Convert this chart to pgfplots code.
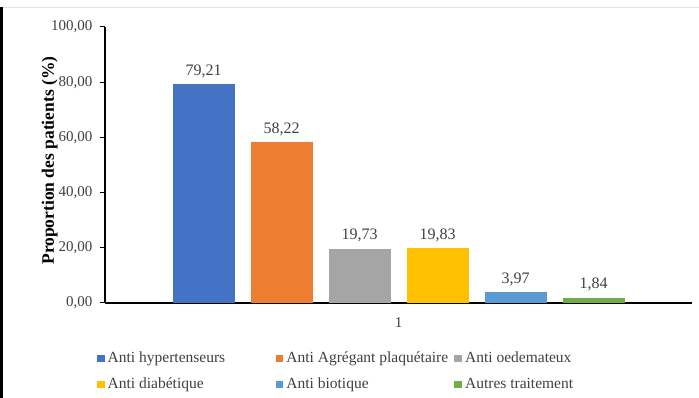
\documentclass[border=0pt]{standalone}
\usepackage{fontspec}
\setmainfont{Liberation Serif}
\usepackage{pgfplots}
\pgfplotsset{compat=1.18}

\definecolor{cBlue}{HTML}{4472C4}
\definecolor{cOrange}{HTML}{ED7D31}
\definecolor{cGrey}{HTML}{A5A5A5}
\definecolor{cYellow}{HTML}{FFC000}
\definecolor{cLightBlue}{HTML}{5B9BD5}
\definecolor{cGreen}{HTML}{70AD47}
\definecolor{txt}{HTML}{404040}
\definecolor{frameline}{HTML}{E2E2E2}

\begin{document}
\begin{tikzpicture}
\useasboundingbox (0pt,0pt) rectangle (699pt,398pt);
% frame of the chart area
\fill[frameline] (0pt,389.5pt) rectangle (699pt,391pt);
\fill[black] (0pt,0pt) rectangle (2.6pt,390.5pt);
\begin{axis}[
  at={(105pt,95pt)}, anchor=south west,
  scale only axis, width=587pt, height=276pt,
  ybar=16pt, bar width=62pt,
  ymin=0, ymax=100, xmin=0.5, xmax=1.5,
  ytick={0,20,...,100},
  xtick={1}, xticklabels={1},
  axis x line*=bottom, axis y line*=left,
  axis line style={-, black, line width=1.1pt},
  tick align=outside, ytick pos=left,
  major tick length=5pt,
  y tick style={black, line width=1pt},
  x tick style={draw=none},
  /pgf/number format/fixed,
  /pgf/number format/fixed zerofill,
  /pgf/number format/precision=2,
  /pgf/number format/use comma,
  /pgf/number format/assume math mode=true,
  yticklabel style={font=\fontsize{15}{18}\selectfont, text=txt, xshift=-4pt},
  xticklabel style={font=\fontsize{15}{18}\selectfont, text=txt, yshift=-6pt},
  ylabel={Proportion des patients (\%)},
  ylabel style={font=\bfseries\fontsize{17.5}{21}\selectfont, text=black,
    at={(axis description cs:-0.0869,0.516)}, anchor=base},
  nodes near coords,
  every node near coord/.append style={font=\fontsize{16}{19}\selectfont,
    text=txt, anchor=base, yshift=9pt},
  legend columns=3,
  legend image code/.code={\fill[#1] (0pt,0.7pt) rectangle (7.7pt,8pt);},
  legend style={at={(axis description cs:-0.0136,-0.169)}, anchor=north west,
    draw=none, fill=none, inner sep=0pt, outer sep=0pt,
    font=\fontsize{15.5}{18.6}\selectfont, text=txt,
    cells={anchor=base west}, nodes={inner sep=0pt},
    /tikz/every odd column/.append style={column sep=3pt},
    row sep=11.4pt},
]
\addplot[fill=cBlue, draw=none] coordinates {(1,79.21)};
\addlegendentry{\makebox[168pt][l]{\strut Anti hypertenseurs}}
\addplot[fill=cOrange, draw=none] coordinates {(1,58.22)};
\addlegendentry{\makebox[168pt][l]{\strut Anti Agrégant plaquétaire}}
\addplot[fill=cGrey, draw=none] coordinates {(1,19.73)};
\addlegendentry{\makebox[168pt][l]{\strut Anti oedemateux}}
\addplot[fill=cYellow, draw=none] coordinates {(1,19.83)};
\addlegendentry{\makebox[168pt][l]{\strut Anti diabétique}}
\addplot[fill=cLightBlue, draw=none] coordinates {(1,3.97)};
\addlegendentry{\makebox[168pt][l]{\strut Anti biotique}}
\addplot[fill=cGreen, draw=none] coordinates {(1,1.84)};
\addlegendentry{\makebox[168pt][l]{\strut Autres traitement}}
\end{axis}
\end{tikzpicture}
\end{document}
